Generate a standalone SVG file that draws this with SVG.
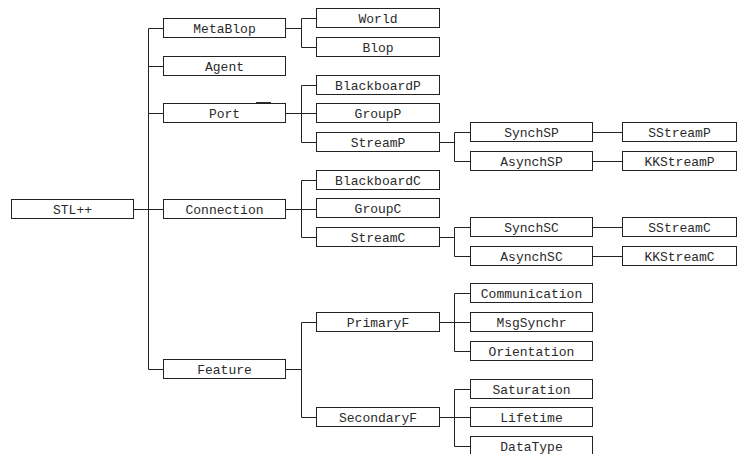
<svg xmlns="http://www.w3.org/2000/svg" width="738" height="454" viewBox="0 0 738 454">
  <style>
    .box rect { fill: #ffffff; stroke: #222222; stroke-width: 1; }
    .box text { font-family: "Liberation Mono", "Courier New", monospace; font-size: 13px; fill: #2a2a2a; text-anchor: middle; }
    .links path { fill: none; stroke: #222222; stroke-width: 1; }
  </style>
  <rect x="0" y="0" width="738" height="454" fill="#ffffff"/>

  <!-- connectors -->
  <g class="links">
    <!-- root trunk -->
    <path d="M133.5 209.5 H163.5 M148.5 28.5 V369.5 M148.5 28.5 H163.5 M148.5 66.5 H163.5 M148.5 113.5 H163.5 M148.5 369.5 H163.5"/>
    <!-- MetaBlop -->
    <path d="M285.5 28.5 H301.5 M301.5 18.5 V47.5 M301.5 18.5 H316.5 M301.5 47.5 H316.5"/>
    <!-- Port -->
    <path d="M285.5 113.5 H316.5 M301.5 85.5 V142.5 M301.5 85.5 H316.5 M301.5 142.5 H316.5"/>
    <!-- Connection -->
    <path d="M285.5 209.5 H316.5 M301.5 180.5 V237.5 M301.5 180.5 H316.5 M301.5 237.5 H316.5"/>
    <!-- Feature -->
    <path d="M285.5 369.5 H301.5 M301.5 322.5 V417.5 M301.5 322.5 H316.5 M301.5 417.5 H316.5"/>
    <!-- StreamP -->
    <path d="M439.5 142.5 H454.5 M454.5 132.5 V161.5 M454.5 132.5 H470.5 M454.5 161.5 H470.5"/>
    <!-- StreamC -->
    <path d="M439.5 237.5 H454.5 M454.5 227.5 V256.5 M454.5 227.5 H470.5 M454.5 256.5 H470.5"/>
    <!-- PrimaryF -->
    <path d="M439.5 322.5 H470.5 M454.5 293.5 V351.5 M454.5 293.5 H470.5 M454.5 351.5 H470.5"/>
    <!-- SecondaryF -->
    <path d="M439.5 417.5 H470.5 M454.5 389.5 V446.5 M454.5 389.5 H470.5 M454.5 446.5 H470.5"/>
    <!-- synch / asynch to streams -->
    <path d="M592.5 132.5 H622.5 M592.5 161.5 H622.5 M592.5 227.5 H622.5 M592.5 256.5 H622.5"/>
  </g>

  <!-- column 0 -->
  <g id="stl" class="box"><rect x="11.5" y="199.5" width="122" height="19"/><text x="72.5" y="214">STL++</text></g>

  <!-- column 1 -->
  <g id="metablop" class="box"><rect x="163.5" y="18.5" width="122" height="19"/><text x="224.5" y="33">MetaBlop</text></g>
  <g id="agent" class="box"><rect x="163.5" y="56.5" width="122" height="19"/><text x="224.5" y="71">Agent</text></g>
  <g id="port" class="box"><rect x="163.5" y="103.5" width="122" height="19"/><text x="224.5" y="118">Port</text>
    <path d="M256 102.8 H271" stroke="#222222" stroke-width="1.5"/></g>
  <g id="connection" class="box"><rect x="163.5" y="199.5" width="122" height="19"/><text x="224.5" y="214">Connection</text></g>
  <g id="feature" class="box"><rect x="163.5" y="359.5" width="122" height="19"/><text x="224.5" y="374">Feature</text></g>

  <!-- column 2 -->
  <g id="world" class="box"><rect x="316.5" y="8.5" width="123" height="19"/><text x="378" y="23">World</text></g>
  <g id="blop" class="box"><rect x="316.5" y="37.5" width="123" height="19"/><text x="378" y="52">Blop</text></g>
  <g id="blackboardp" class="box"><rect x="316.5" y="75.5" width="123" height="19"/><text x="378" y="90">BlackboardP</text></g>
  <g id="groupp" class="box"><rect x="316.5" y="103.5" width="123" height="19"/><text x="378" y="118">GroupP</text></g>
  <g id="streamp" class="box"><rect x="316.5" y="132.5" width="123" height="19"/><text x="378" y="147">StreamP</text></g>
  <g id="blackboardc" class="box"><rect x="316.5" y="170.5" width="123" height="19"/><text x="378" y="185">BlackboardC</text></g>
  <g id="groupc" class="box"><rect x="316.5" y="198.5" width="123" height="19"/><text x="378" y="213">GroupC</text></g>
  <g id="streamc" class="box"><rect x="316.5" y="227.5" width="123" height="19"/><text x="378" y="242">StreamC</text></g>
  <g id="primaryf" class="box"><rect x="316.5" y="312.5" width="123" height="19"/><text x="378" y="327">PrimaryF</text></g>
  <g id="secondaryf" class="box"><rect x="316.5" y="407.5" width="123" height="19"/><text x="378" y="422">SecondaryF</text></g>

  <!-- column 3 -->
  <g id="synchsp" class="box"><rect x="470.5" y="122.5" width="122" height="19"/><text x="531.5" y="137">SynchSP</text></g>
  <g id="asynchsp" class="box"><rect x="470.5" y="151.5" width="122" height="19"/><text x="531.5" y="166">AsynchSP</text></g>
  <g id="synchsc" class="box"><rect x="470.5" y="217.5" width="122" height="19"/><text x="531.5" y="232">SynchSC</text></g>
  <g id="asynchsc" class="box"><rect x="470.5" y="246.5" width="122" height="19"/><text x="531.5" y="261">AsynchSC</text></g>
  <g id="communication" class="box"><rect x="470.5" y="283.5" width="122" height="19"/><text x="531.5" y="298">Communication</text></g>
  <g id="msgsynchr" class="box"><rect x="470.5" y="312.5" width="122" height="19"/><text x="531.5" y="327">MsgSynchr</text></g>
  <g id="orientation" class="box"><rect x="470.5" y="341.5" width="122" height="19"/><text x="531.5" y="356">Orientation</text></g>
  <g id="saturation" class="box"><rect x="470.5" y="379.5" width="122" height="19"/><text x="531.5" y="394">Saturation</text></g>
  <g id="lifetime" class="box"><rect x="470.5" y="407.5" width="122" height="19"/><text x="531.5" y="422">Lifetime</text></g>
  <g id="datatype" class="box"><rect x="470.5" y="436.5" width="122" height="19"/><text x="531.5" y="451">DataType</text></g>

  <!-- column 4 -->
  <g id="sstreamp" class="box"><rect x="622.5" y="122.5" width="114" height="19"/><text x="679.5" y="137">SStreamP</text></g>
  <g id="kkstreamp" class="box"><rect x="622.5" y="151.5" width="114" height="19"/><text x="679.5" y="166">KKStreamP</text></g>
  <g id="sstreamc" class="box"><rect x="622.5" y="217.5" width="114" height="19"/><text x="679.5" y="232">SStreamC</text></g>
  <g id="kkstreamc" class="box"><rect x="622.5" y="246.5" width="114" height="19"/><text x="679.5" y="261">KKStreamC</text></g>
</svg>
